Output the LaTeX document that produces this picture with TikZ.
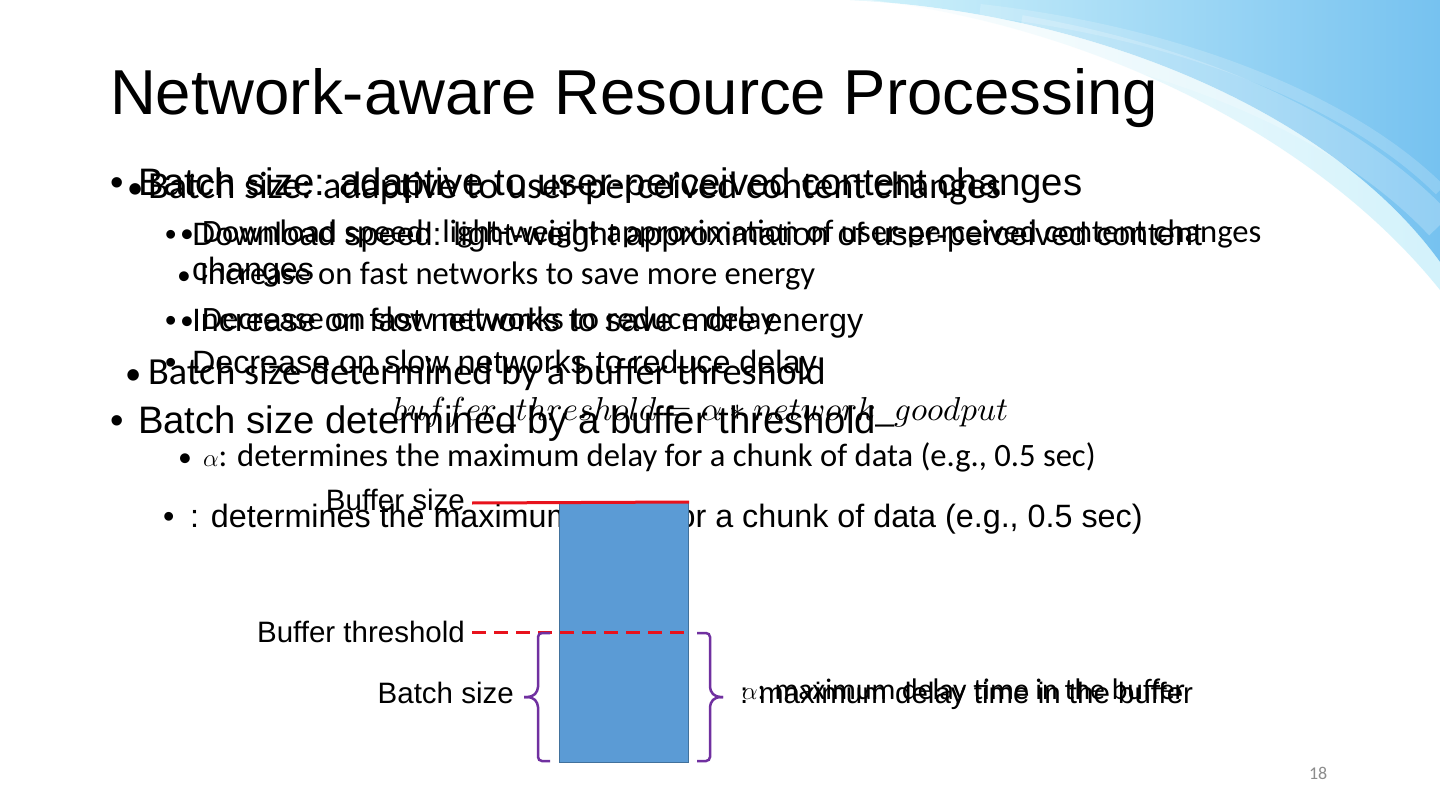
\documentclass[tikz,border=0pt]{standalone}
\usepackage{fontspec}
\setmainfont{Liberation Sans}
\newfontfamily\ari{Liberation Sans}
\newfontfamily\carl{Carlito}
\definecolor{rectfill}{HTML}{5B9BD5}
\definecolor{rectline}{HTML}{41719C}
\definecolor{brcol}{HTML}{7030A0}
\definecolor{redl}{HTML}{E8121C}
\definecolor{skyA}{HTML}{D2F3FB}
\definecolor{skyB}{HTML}{76C2F0}
\definecolor{skyC}{HTML}{A8E6F8}
\definecolor{pgnum}{HTML}{8C8C8C}
\tikzset{
  tx/.style={anchor=base west, inner sep=0pt, outer sep=0pt},
  title/.style={tx, font=\ari\fontsize{63.5}{70}\selectfont},
  arA/.style={tx, font=\ari\fontsize{38.3}{44}\selectfont},
  arB/.style={tx, font=\ari\fontsize{32.3}{38}\selectfont},
  caA/.style={tx, font=\carl\fontsize{38.3}{44}\selectfont},
  caB/.style={tx, font=\carl\fontsize{32.6}{38}\selectfont},
  labR/.style={anchor=base east, inner sep=0pt, font=\ari\fontsize{29.5}{34}\selectfont},
  labL/.style={tx, font=\ari\fontsize{29.5}{34}\selectfont},
  labC/.style={tx, font=\carl\fontsize{29.8}{34}\selectfont},
  brace/.style={draw=brcol, line width=2.5pt, rounded corners=4pt},
  bufline/.style={draw=redl, line width=3pt},
}
\begin{document}
\begin{tikzpicture}[x=1pt,y=-1pt]
\useasboundingbox (0,0) rectangle (1440,810);
\fill[white] (0,0) rectangle (1440,810);
% background swoosh
\shade[left color=skyA, right color=skyB] (850,0) .. controls (1090,12) and (1330,110) .. (1440,262) -- (1440,0) -- cycle;
\shade[left color=white, right color=skyC, opacity=0.5] (870,0) .. controls (1100,28) and (1320,140) .. (1440,290) -- (1440,262) .. controls (1330,110) and (1090,12) .. (850,0) -- cycle;
\draw[white, opacity=0.22, line width=30pt] (1020,30) .. controls (1220,65) and (1360,140) .. (1440,225);
\draw[white, opacity=0.18, line width=12pt] (980,10) .. controls (1200,35) and (1360,110) .. (1440,190);

% title
\node[title] (t) at (110,115) {Network-aware Resource Processing};

% Carlito layer
\node[caA] (cb1) at (127,199) {\scalebox{0.85}{•}};
\node[caA] (c1) at (148,199) {Batch size: adaptive to user-perceived content changes};
\node[caB] (cb2) at (180,243) {\scalebox{0.85}{•}};
\node[caB] (c2) at (202,243) {Download speed: light-weight approximation of user-perceived content changes};
\node[caB] (cb3) at (177,285) {\scalebox{0.85}{•}};
\node[caB] (c3) at (200,285) {Increase on fast networks to save more energy};
\node[caB] (cb4) at (180,329) {\scalebox{0.85}{•}};
\node[caB] (c4) at (202,329) {Decrease on slow networks to reduce delay};
\node[caA] (cb5) at (125,384) {\scalebox{0.85}{•}};
\node[caA] (c5) at (148,384) {Batch size determined by a buffer threshold};
\node[caB] (cb6) at (178,466) {\scalebox{0.85}{•}};
\node[caB] (c6) at (203,466) {$\alpha$: determines the maximum delay for a chunk of data (e.g., 0.5 sec)};

% Arial layer
\node[arA] (ab1) at (110,196) {•};
\node[arA] (a1) at (138,196) {Batch size: adaptive to user-perceived content changes};
\node[arB] (ab2) at (165,246) {•};
\node[arB] (a2) at (192,246) {Download speed: light-weight approximation of user-perceived content};
\node[arB] (a2w) at (192,281) {changes};
\node[arB] (ab3) at (165,331) {•};
\node[arB] (a3) at (192,331) {Increase on fast networks to save more energy};
\node[arB] (ab4) at (165,373) {•};
\node[arB] (a4) at (192,373) {Decrease on slow networks to reduce delay};
\node[tx] (f) at (393,420) {\resizebox{615pt}{!}{$buffer\_threshold=\alpha\ast network\_goodput$}};
\node[arA] (ab5) at (110,433) {•};
\node[arA] (a5) at (138,433) {Batch size determined by a buffer threshold};
\node[arB] (ab6) at (163,527) {•};
\node[arB] (a6) at (190,527) {: determines the maximum delay for a chunk of data (e.g., 0.5 sec)};

% diagram
\node[draw=rectline, line width=1.2pt, fill=rectfill, minimum width=129pt, minimum height=260pt, inner sep=0pt, anchor=north west] (buf) at (559,502) {};
\coordinate (bsL) at (472,503);
\coordinate (btL) at (472,632);
\draw[bufline] (bsL) -- (buf.north east);
\draw[bufline, dash pattern=on 14pt off 8pt] (btL) -- (buf.east |- btL);
\node[labR] (lbs) at (465,510) {Buffer size};
\node[labR] (lbt) at (465,642) {Buffer threshold};
\node[labR] (lba) at (514,703) {Batch size};
\draw[brace] (550,633) -- (538,633) -- (538,691) -- (532,697) -- (524,697);
\draw[brace] (524,697) -- (532,697) -- (538,703) -- (538,761) -- (550,761);
\draw[brace] (697,633) -- (710,633) -- (710,691) -- (716,697) -- (723,697);
\draw[brace] (723,697) -- (716,697) -- (710,703) -- (710,761) -- (697,761);
\node[labL] (lmx) at (740,703) {: maximum delay time in the buffer};
\node[labC] (lmc) at (742,699) {$\alpha$: maximum delay time in the buffer};
\node[tx, font=\carl\fontsize{18}{20}\selectfont, text=pgnum] (pg) at (1309,779) {18};
\end{tikzpicture}
\end{document}
